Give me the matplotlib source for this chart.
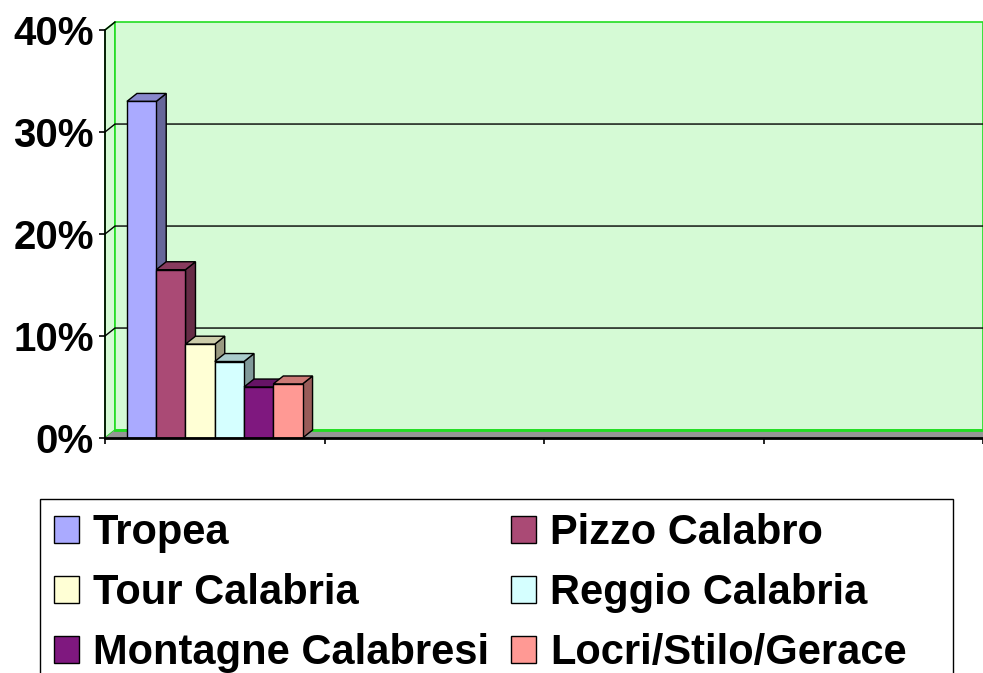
import matplotlib
matplotlib.use("Agg")
import matplotlib.pyplot as plt
from matplotlib.patches import Polygon, Rectangle
from matplotlib.ticker import PercentFormatter
from matplotlib.colors import to_rgb

# data
series = ["Tropea", "Pizzo Calabro", "Tour Calabria",
          "Reggio Calabria", "Montagne Calabresi", "Locri/Stilo/Gerace"]
values = [33.0, 16.5, 9.2, 7.5, 5.0, 5.3]   # percent, first category only
n_categories = 4
colors = ["#AAAAFF", "#AA4A75", "#FFFFD5", "#D5FFFF", "#7F187F", "#FF9994"]

plt.rcParams["font.family"] = ["Liberation Sans", "DejaVu Sans"]
plt.rcParams["font.weight"] = "bold"

fig = plt.figure(figsize=(9.83, 6.73), dpi=100)
ax = fig.add_axes([105 / 983, 235 / 673, 878 / 983, 408 / 673])

xmin, xmax = -0.5, n_categories - 0.5
ymin, ymax = 0, 40
ax.set_xlim(xmin, xmax)
ax.set_ylim(ymin, ymax)

# depth of the fake 3d effect, in data units
dx = 10 / 219.5
dy = 0.78

wall = "#D5FAD5"
wall_edge = "#22DD22"

def shade(c, f):
    r, g, b = to_rgb(c)
    return (r * f, g * f, b * f)

# side wall + back wall
ax.add_patch(Polygon([(xmin, ymin), (xmin + dx, ymin + dy), (xmin + dx, ymax + dy), (xmin, ymax)],
                     closed=True, facecolor=wall, edgecolor=wall_edge, lw=1.2, clip_on=False, zorder=0))
ax.add_patch(Polygon([(xmin + dx, ymin + dy), (xmax, ymin + dy), (xmax, ymax + dy), (xmin + dx, ymax + dy)],
                     closed=True, facecolor=wall, edgecolor=wall_edge, lw=1.2, clip_on=False, zorder=0))

# gridlines on the back wall
for v in [10, 20, 30]:
    ax.plot([xmin, xmin + dx, xmax], [v, v + dy, v + dy], color="black", lw=1.0, clip_on=False, zorder=1)
ax.plot([xmin, xmin + dx], [ymax, ymax + dy], color="black", lw=1.0, clip_on=False, zorder=1)

# floor
ax.add_patch(Polygon([(xmin, ymin), (xmin + dx, ymin + dy), (xmax, ymin + dy), (xmax, ymin)],
                     closed=True, facecolor="#969696", edgecolor="none", clip_on=False, zorder=1))
ax.plot([xmin + dx, xmax], [ymin + dy, ymin + dy], color=wall_edge, lw=2.0, clip_on=False, zorder=1.5)

# bars
width = 0.8 / len(series)
handles = []
for i, (name, v, c) in enumerate(zip(series, values, colors)):
    x0 = -0.4 + i * width
    z = 2 + i
    b = ax.bar([x0], [v], width=width, align="edge", color=c, edgecolor="black",
               lw=1.0, label=name, zorder=z + 0.5)
    handles.append(b)
    x1 = x0 + width
    ax.add_patch(Polygon([(x1, 0), (x1 + dx, dy), (x1 + dx, v + dy), (x1, v)], closed=True,
                         facecolor=shade(c, 0.6), edgecolor="black", lw=1.0, clip_on=False, zorder=z))
    ax.add_patch(Polygon([(x0, v), (x0 + dx, v + dy), (x1 + dx, v + dy), (x1, v)], closed=True,
                         facecolor=shade(c, 0.8), edgecolor="black", lw=1.0, clip_on=False, zorder=z))

# axes
for s in ["top", "right"]:
    ax.spines[s].set_visible(False)
ax.spines["left"].set_linewidth(1.2)
ax.spines["bottom"].set_linewidth(2.0)
ax.spines["left"].set_zorder(20)
ax.spines["bottom"].set_zorder(20)
ax.set_yticks([0, 10, 20, 30, 40])
ax.yaxis.set_major_formatter(PercentFormatter(decimals=0))
ax.set_xticks([xmin + k for k in range(n_categories + 1)])
ax.set_xticklabels([])
ax.tick_params(axis="both", direction="out", length=4.5, width=1.2, color="black")
ax.tick_params(axis="y", labelsize=29, pad=3.5)
for t in ax.get_yticklabels():
    t.set_fontweight("bold")

# legend, filled row by row like the original
order = [0, 2, 4, 1, 3, 5]
leg = fig.legend(handles=[handles[k] for k in order], labels=[series[k] for k in order],
                 ncol=2, loc="upper left",
                 bbox_to_anchor=(40 / 983, 1 - 499 / 673), borderaxespad=0,
                 prop={"size": 30, "weight": "bold"}, frameon=False,
                 handlelength=0.6, handleheight=0.6,
                 handletextpad=0.33, columnspacing=0.53, labelspacing=0.48,
                 borderpad=0.34)
fig.add_artist(Rectangle((40 / 983, -0.05), 913 / 983, 0.05 + 174 / 673,
                         transform=fig.transFigure, facecolor="none",
                         edgecolor="black", lw=1.0))

fig.savefig("out.png", dpi=100)
